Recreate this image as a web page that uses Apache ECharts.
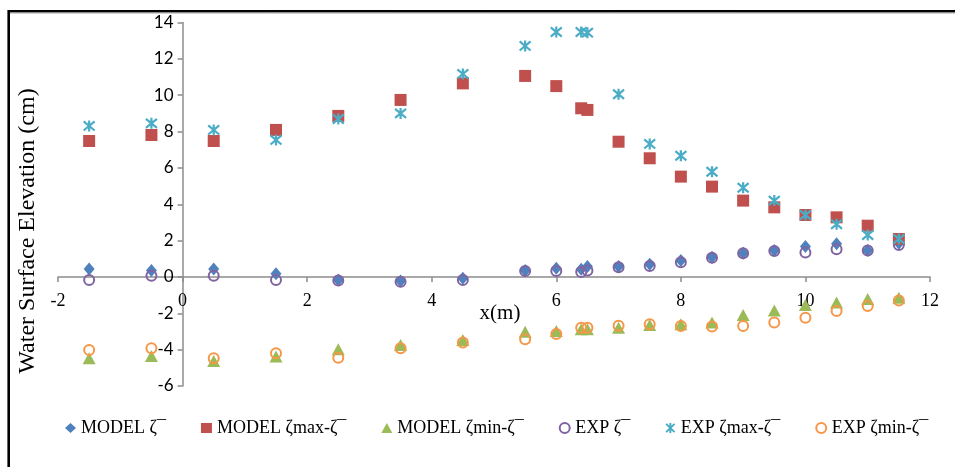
<!DOCTYPE html>
<html>
<head>
<meta charset="utf-8">
<script src="https://cdn.jsdelivr.net/npm/echarts@6/dist/echarts.min.js"></script>
<style>
  html, body { margin: 0; padding: 0; background: #fff; }
  #chart { width: 955px; height: 467px; }
</style>
</head>
<body>
<div id="chart"></div>
<script>
// Measurement stations along the flume, x (m)
var stations = [-1.5, -0.5, 0.5, 1.5, 2.5, 3.5, 4.5, 5.5, 6, 6.4, 6.5, 7, 7.5, 8, 8.5, 9, 9.5, 10, 10.5, 11, 11.5];

// Mean water level and crest/trough elevations (cm)
var modelMean = [0.44, 0.35, 0.44, 0.17, -0.17, -0.22, -0.07, 0.35, 0.48, 0.42, 0.57, 0.57, 0.70, 0.90, 1.08, 1.30, 1.45, 1.67, 1.82, 1.45, 1.85];
var modelMax  = [7.48, 7.81, 7.48, 8.09, 8.86, 9.74, 10.65, 11.06, 10.50, 9.28, 9.19, 7.44, 6.53, 5.52, 4.97, 4.20, 3.83, 3.41, 3.28, 2.82, 2.09];
var modelMin  = [-4.47, -4.35, -4.62, -4.38, -3.98, -3.74, -3.47, -3.01, -2.98, -2.88, -2.88, -2.79, -2.64, -2.60, -2.51, -2.09, -1.85, -1.54, -1.41, -1.21, -1.14];
var expMean   = [-0.17, 0.07, 0.07, -0.17, -0.20, -0.26, -0.17, 0.33, 0.33, 0.27, 0.35, 0.53, 0.60, 0.81, 1.06, 1.30, 1.43, 1.34, 1.52, 1.45, 1.76];
var expMax    = [8.31, 8.45, 8.09, 7.54, 8.69, 9.00, 11.17, 12.71, 13.48, 13.48, 13.44, 10.05, 7.32, 6.67, 5.79, 4.91, 4.20, 3.41, 2.90, 2.31, 2.09];
var expMin    = [-4.02, -3.92, -4.47, -4.20, -4.44, -3.92, -3.61, -3.43, -3.14, -2.79, -2.79, -2.68, -2.60, -2.70, -2.73, -2.70, -2.51, -2.24, -1.87, -1.60, -1.30];

var seriesNames = ['MODEL ζ¯', 'MODEL ζmax-ζ¯', 'MODEL ζmin-ζ¯', 'EXP ζ¯', 'EXP ζmax-ζ¯', 'EXP ζmin-ζ¯'];

// Axis ranges
var xMin = -2, xMax = 12, xStep = 2;
var yMin = -6, yMax = 14, yStep = 2;

function pairs(values) {
  return stations.map(function (x, i) { return [x, values[i]]; });
}

var W = 955, H = 467;
var grid = { left: 58, right: 25, top: 22.5, bottom: 81 };
var gridW = W - grid.left - grid.right;
var gridH = H - grid.top - grid.bottom;

// The axes cross at the origin: shift each one inward onto the other's zero
var xAxisOffset = -gridH * (0 - yMin) / (yMax - yMin);
var yAxisOffset = -gridW * (0 - xMin) / (xMax - xMin);

var asterisk = 'path://M0,0L10,10M10,0L0,10M5,-1L5,11';
var serif = 'Liberation Serif, Times New Roman, serif';
var axisGrey = '#8c8c8c';
var clear = 'rgba(255,255,255,0)';

var chart = echarts.init(document.getElementById('chart'), null, { renderer: 'canvas' });

chart.setOption({
  animation: false,
  backgroundColor: '#ffffff',
  grid: grid,
  xAxis: {
    type: 'value', min: xMin, max: xMax, interval: xStep,
    offset: xAxisOffset,
    axisLine: { onZero: false, lineStyle: { color: axisGrey, width: 1.5 } },
    axisTick: { show: true, length: 5, lineStyle: { color: axisGrey, width: 1.5 } },
    axisLabel: { fontFamily: serif, fontSize: 18, color: '#000', margin: 15, showMinLabel: true, showMaxLabel: true },
    splitLine: { show: false }
  },
  yAxis: {
    type: 'value', min: yMin, max: yMax, interval: yStep,
    offset: yAxisOffset,
    axisLine: { onZero: false, lineStyle: { color: axisGrey, width: 1.5 } },
    axisTick: { show: true, length: 5, lineStyle: { color: axisGrey, width: 1.5 } },
    axisLabel: { fontFamily: 'Lato, Open Sans, sans-serif', fontSize: 17, color: '#000', margin: 9 },
    splitLine: { show: false }
  },
  legend: {
    left: 60, top: 414,
    itemGap: 35, itemWidth: 11, itemHeight: 10,
    textStyle: { fontFamily: serif, fontSize: 18, color: '#000' },
    data: seriesNames
  },
  graphic: [
    { type: 'rect', shape: { x: 8.7, y: 11.2, width: 980, height: 500 },
      style: { fill: 'none', stroke: '#000', lineWidth: 2.6 }, silent: true },
    { type: 'line', shape: { x1: 10, y1: 13.3, x2: 955, y2: 13.3 },
      style: { stroke: '#c4c4c4', lineWidth: 1 }, silent: true },
    { type: 'text', x: 28, y: 231, rotation: Math.PI / 2,
      style: { text: 'Water Surface Elevation (cm)', fontFamily: serif, fontSize: 24,
               fill: '#000', align: 'center', verticalAlign: 'middle' } },
    { type: 'text', x: 500, y: 313,
      style: { text: 'x(m)', fontFamily: serif, fontSize: 21,
               fill: '#000', align: 'center', verticalAlign: 'middle' } }
  ],
  series: [
    { name: seriesNames[0], type: 'scatter', data: pairs(modelMean),
      symbol: 'diamond', symbolSize: [11, 13], itemStyle: { color: '#4F81BD', opacity: 1 } },
    { name: seriesNames[1], type: 'scatter', data: pairs(modelMax),
      symbol: 'rect', symbolSize: 12, itemStyle: { color: '#C0504D', opacity: 1 } },
    { name: seriesNames[2], type: 'scatter', data: pairs(modelMin),
      symbol: 'triangle', symbolSize: [13, 12], itemStyle: { color: '#9BBB59', opacity: 1 } },
    { name: seriesNames[3], type: 'scatter', data: pairs(expMean),
      symbol: 'circle', symbolSize: 10,
      itemStyle: { color: clear, borderColor: '#8064A2', borderWidth: 2, opacity: 1 } },
    { name: seriesNames[4], type: 'scatter', data: pairs(expMax),
      symbol: asterisk, symbolSize: 11,
      itemStyle: { color: clear, borderColor: '#4BACC6', borderWidth: 2.2, opacity: 1 } },
    { name: seriesNames[5], type: 'scatter', data: pairs(expMin),
      symbol: 'circle', symbolSize: 10,
      itemStyle: { color: clear, borderColor: '#F79646', borderWidth: 2, opacity: 1 } }
  ]
});
</script>
</body>
</html>
